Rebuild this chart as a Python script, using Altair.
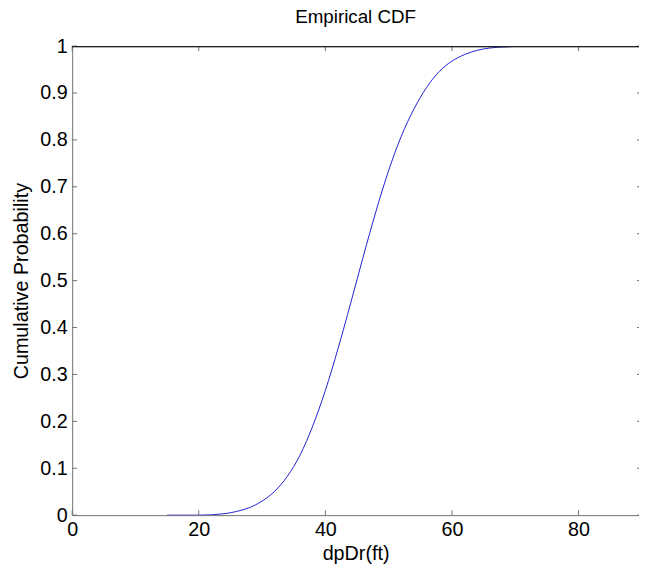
import altair as alt
import pandas as pd

title_text = "Empirical CDF"
x_label = "dpDr(ft)"
y_label = "Cumulative Probability"

# empirical CDF
cdf_x = [15, 20, 24, 26, 28, 30, 32, 34, 36, 38, 40, 42, 44, 46, 48, 50,
         52, 54, 56, 58, 60, 62, 64, 66, 68, 71]
cdf_p = [0.0, 0.0, 0.003, 0.008, 0.016, 0.03, 0.051, 0.083, 0.128, 0.19,
         0.266, 0.355, 0.452, 0.552, 0.648, 0.735, 0.808, 0.866, 0.912,
         0.946, 0.968, 0.982, 0.991, 0.996, 0.998, 1.0]

x_ticks = [0, 20, 40, 60, 80]
y_ticks = [0, 0.1, 0.2, 0.3, 0.4, 0.5, 0.6, 0.7, 0.8, 0.9, 1]

W, H = 574, 475
FONT = "Liberation Sans"
AX = "#707070"

xs = alt.Scale(domain=[0, 89.55], nice=False, zero=False)
ys = alt.Scale(domain=[0, 1], nice=False)

df = pd.DataFrame({"x": cdf_x, "p": cdf_p})
xt = pd.DataFrame({"x": x_ticks})
yt = pd.DataFrame({"p": y_ticks})

line = alt.Chart(df).mark_line(
    color="#2020d0", strokeWidth=1, interpolate="monotone", clip=True
).encode(
    x=alt.X("x:Q", scale=xs, title=x_label, axis=alt.Axis(
        values=x_ticks, ticks=False, grid=False,
        domainColor=AX, labelFont=FONT, labelFontSize=20, labelColor="black",
        labelPadding=5, labelFlush=False, labelOverlap=False,
        titleFont=FONT, titleFontSize=20, titleFontWeight="normal",
        titleColor="black", titlePadding=4)),
    y=alt.Y("p:Q", scale=ys, title=y_label, axis=alt.Axis(
        values=y_ticks, format="~g", ticks=False, grid=False,
        domainColor=AX, labelFont=FONT, labelFontSize=20, labelColor="black",
        labelPadding=5, labelFlush=False, labelOverlap=False,
        titleFont=FONT, titleFontSize=20, titleFontWeight="normal",
        titleColor="black", titlePadding=8)),
)

bottom_ticks = alt.Chart(xt).mark_rule(color=AX).encode(
    x=alt.X("x:Q", scale=xs, title=x_label), y=alt.value(H), y2=alt.value(H - 5))
top_ticks = alt.Chart(xt).mark_rule(color=AX).encode(
    x=alt.X("x:Q", scale=xs, title=x_label), y=alt.value(0), y2=alt.value(5))
left_ticks = alt.Chart(yt).mark_rule(color=AX).encode(
    y=alt.Y("p:Q", scale=ys, title=y_label), x=alt.value(0), x2=alt.value(5))
right_ticks = alt.Chart(yt).mark_rule(color=AX).encode(
    y=alt.Y("p:Q", scale=ys, title=y_label), x=alt.value(W - 2), x2=alt.value(W))
top_spine = alt.Chart(xt).mark_rule(color="#222222").encode(
    x=alt.value(0), x2=alt.value(W), y=alt.value(0.5))

chart = alt.layer(
    line, bottom_ticks, top_ticks, left_ticks, right_ticks, top_spine
).properties(
    width=W, height=H,
    title=alt.TitleParams(title_text, font=FONT, fontSize=19,
                          fontWeight="normal", color="black",
                          anchor="middle", offset=9),
    autosize=alt.AutoSizeParams(type="none"),
    padding={"left": 65, "top": 35, "right": 0, "bottom": 55},
    background="white",
).configure_view(stroke=None)

chart.save("out.html", embed_options={"renderer": "svg", "actions": False})
